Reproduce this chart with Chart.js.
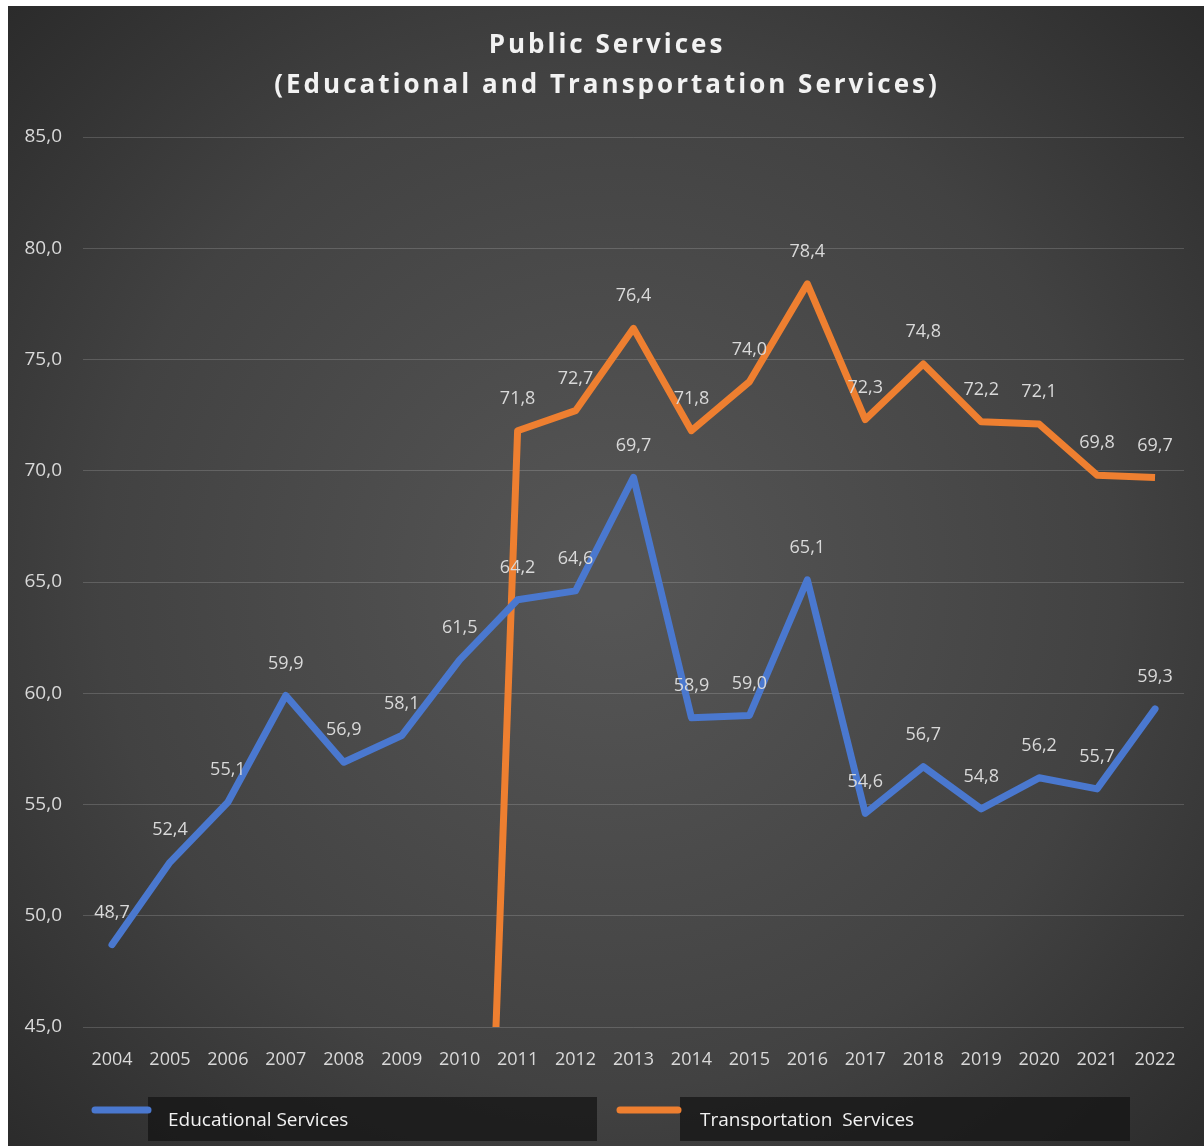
<!DOCTYPE html>
<html>
<head>
<meta charset="utf-8">
<script src="https://cdn.jsdelivr.net/npm/chart.js@4/dist/chart.umd.min.js"></script>
<style>
html,body{margin:0;padding:0;background:#ffffff;}
</style>
</head>
<body>
<canvas id="myChart" width="1204" height="1146"></canvas>
<script>
// --- data ---
let years=["2004","2005","2006","2007","2008","2009","2010","2011","2012","2013","2014","2015","2016","2017","2018","2019","2020","2021","2022"];
let educational=[48.7,52.4,55.1,59.9,56.9,58.1,61.5,64.2,64.6,69.7,58.9,59.0,65.1,54.6,56.7,54.8,56.2,55.7,59.3];
// 2010 is a zero in the source sheet, that's why the line drops off the bottom
let transportation=[null,null,null,null,null,null,0,71.8,72.7,76.4,71.8,74.0,78.4,72.3,74.8,72.2,72.1,69.8,69.7];
let seriesNames=["Educational Services","Transportation  Services"];
let seriesColors=["#4a78cf","#ee7f30"];
let titleLines=["Public Services","(Educational and Transportation Services)"];
let yTicks=[45,50,55,60,65,70,75,80,85];

let textColor="#d9d9d9";
let baseFont="'Open Sans', 'Noto Sans', sans-serif";

function fmt(v){
    return v.toFixed(1).replace(".",",");
}

// dark excel-like panel with a soft light spot in the middle
let bgPlugin={
    id:"bg",
    beforeDraw(chart){
        let ctx=chart.ctx;
        ctx.save();
        ctx.fillStyle="#ffffff";
        ctx.fillRect(0,0,chart.width,chart.height);
        let g=ctx.createRadialGradient(610,580,30,610,580,900);
        g.addColorStop(0,"#555555");
        g.addColorStop(0.55,"#424242");
        g.addColorStop(1,"#262626");
        ctx.fillStyle=g;
        ctx.fillRect(8,6,chart.width-8,chart.height-6);
        ctx.restore();
    }
};

let titlePlugin={
    id:"titleLines",
    afterDraw(chart){
        let ctx=chart.ctx;
        ctx.save();
        ctx.fillStyle="#f2f2f2";
        ctx.font="bold 26px "+baseFont;
        ctx.letterSpacing="3px";
        ctx.textAlign="center";
        ctx.textBaseline="middle";
        ctx.fillText(titleLines[0],607,46);
        ctx.fillText(titleLines[1],607,86);
        ctx.restore();
    }
};

// value labels above every point (no datalabels plugin available offline)
let labelPlugin={
    id:"valueLabels",
    afterDatasetsDraw(chart){
        let ctx=chart.ctx;
        let yScale=chart.scales.y;
        ctx.save();
        ctx.fillStyle=textColor;
        ctx.font="18px "+baseFont;
        ctx.textAlign="center";
        ctx.textBaseline="middle";
        chart.data.datasets.forEach((ds,i)=>{
            let meta=chart.getDatasetMeta(i);
            meta.data.forEach((pt,j)=>{
                let v=ds.data[j];
                if(v===null || v<yScale.min) return;
                ctx.fillText(fmt(v),pt.x,pt.y-32);
            });
        });
        ctx.restore();
    }
};

let legendPlugin={
    id:"legendBoxes",
    afterDraw(chart){
        let ctx=chart.ctx;
        let items=[
            {line:[95,148],box:[148,597]},
            {line:[620,678],box:[680,1130]}
        ];
        ctx.save();
        items.forEach((it,i)=>{
            ctx.fillStyle="rgba(20,20,20,0.75)";
            ctx.fillRect(it.box[0],1097,it.box[1]-it.box[0],44);
            ctx.strokeStyle=seriesColors[i];
            ctx.lineWidth=7;
            ctx.lineCap="round";
            ctx.beginPath();
            ctx.moveTo(it.line[0],1110);
            ctx.lineTo(it.line[1],1110);
            ctx.stroke();
            ctx.fillStyle="#f2f2f2";
            ctx.font="19px "+baseFont;
            ctx.textAlign="left";
            ctx.textBaseline="middle";
            ctx.fillText(seriesNames[i],it.box[0]+20,1121);
        });
        ctx.restore();
    }
};

new Chart("myChart",{
    type:"line",
    data:{
        labels:years,
        datasets:[{
            label:seriesNames[0],
            data:educational,
            borderColor:seriesColors[0],
            borderWidth:7,
            pointRadius:0,
            tension:0,
            borderJoinStyle:"round",
            borderCapStyle:"round"
        },{
            label:seriesNames[1],
            data:transportation,
            borderColor:seriesColors[1],
            borderWidth:7,
            pointRadius:0,
            tension:0,
            borderJoinStyle:"round",
            borderCapStyle:"butt"
        }]
    },
    options:{
        responsive:false,
        animation:false,
        devicePixelRatio:1,
        layout:{padding:{top:137,left:8,right:20,bottom:70}},
        plugins:{legend:{display:false},title:{display:false},tooltip:{enabled:false}},
        scales:{
            x:{
                offset:true,
                grid:{display:false},
                border:{display:false},
                ticks:{color:textColor,font:{size:18,family:baseFont},maxRotation:0,autoSkip:false,padding:14},
                afterFit(scale){scale.height=49;}
            },
            y:{
                min:45,max:85,
                afterBuildTicks(scale){scale.ticks=yTicks.map(v=>({value:v}));},
                grid:{color:"rgba(255,255,255,0.16)",lineWidth:1,drawTicks:false},
                border:{display:false},
                ticks:{color:textColor,font:{size:19,family:baseFont},padding:21,callback:(v)=>fmt(v)},
                afterFit(scale){scale.width=75;}
            }
        }
    },
    plugins:[bgPlugin,titlePlugin,labelPlugin,legendPlugin]
});
</script>
</body>
</html>
